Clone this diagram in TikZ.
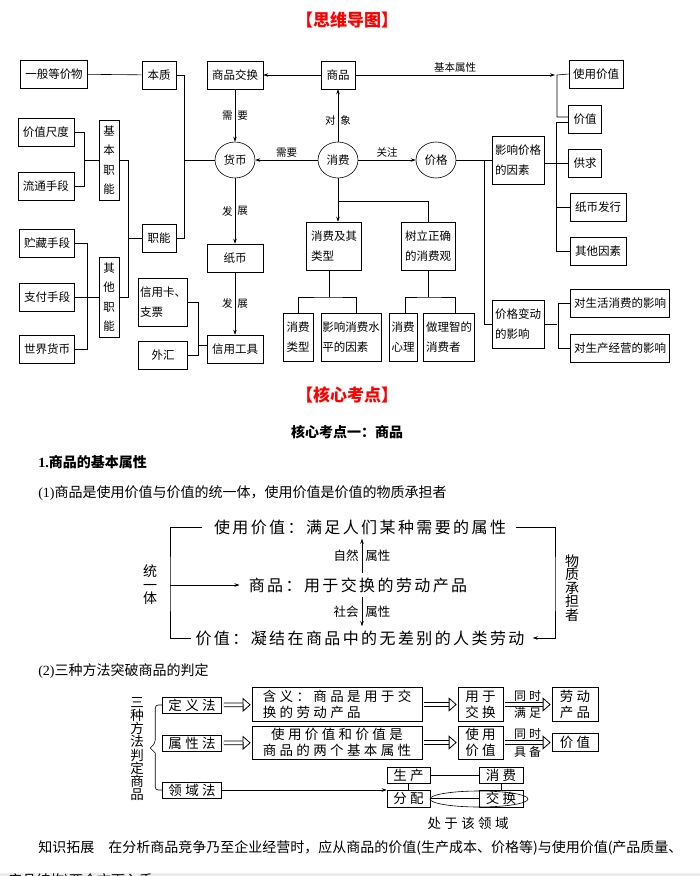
\documentclass[tikz,border=0pt]{standalone}
\usepackage{fontspec}
\setmainfont{Noto Sans CJK SC}
\newfontfamily\serifnum{Liberation Serif}
\newfontfamily\loosecjk[LetterSpace=15]{Noto Sans CJK SC}
\newfontfamily\widecjk[LetterSpace=25]{Noto Sans CJK SC}
\usetikzlibrary{arrows.meta,shapes.geometric,calc}

\begin{document}
\begin{tikzpicture}[x=1pt, y=-1pt, line width=0.6pt,
    >={Stealth[length=5pt,width=3.5pt]},
    box/.style={draw, inner sep=1pt, minimum height=28,
      font=\fontsize{11.5}{20}\selectfont},
    twobox/.style={box, align=left, minimum height=48},
    vbox/.style={draw, inner sep=1pt, minimum width=20, minimum height=80,
      align=center, font=\fontsize{11.5}{19.5}\selectfont},
    oval/.style={draw, ellipse, inner sep=0pt, minimum width=40,
      minimum height=36, font=\fontsize{11.5}{14}\selectfont},
    lbl/.style={font=\fontsize{10.5}{12}\selectfont, inner sep=2pt},
    title/.style={text=red, font=\bfseries\fontsize{17}{20}\selectfont},
    txt/.style={inner sep=0pt, anchor=west, font=\fontsize{14}{16}\selectfont},
    big/.style={inner sep=4pt, font=\loosecjk\fontsize{16}{18}\selectfont},
    vtxt/.style={align=center, inner sep=0pt, font=\fontsize{14}{13.5}\selectfont},
    sm/.style={inner sep=3pt, font=\fontsize{12.5}{14}\selectfont},
    wbox/.style={draw, inner sep=1pt, font=\widecjk\fontsize{13.5}{16}\selectfont},
    tiny/.style={inner sep=3pt, font=\widecjk\fontsize{12}{14}\selectfont},
    hollow/.style={double, double distance=3pt, line width=0.8pt,
      -{Triangle[open, length=8pt, width=14pt, line width=0.8pt]},
      shorten <=2pt, shorten >=1pt}]
  \useasboundingbox (0,0) rectangle (700,876);
  \clip (0,0) rectangle (700,876);

  % mind map
  \node[title] (swdt) at (347,20) {【思维导图】};
  \node[box, minimum width=67] (ybdjw) at (54,74) {一般等价物};
  \node[box, minimum width=34] (bz) at (159,75) {本质};
  \node[box, minimum width=56] (spjh) at (235,75) {商品交换};
  \node[box, minimum width=34] (sp) at (338,75) {商品};
  \node[box, minimum width=54] (syjz) at (596,74) {使用价值};
  \node[box, minimum width=33] (jz) at (585,119) {价值};
  \node[twobox, minimum width=52] (jgys) at (518,160) {影响价格\\的因素};
  \node[box, minimum width=33] (gq) at (585,163) {供求};
  \node[box, minimum width=56] (zbfx) at (598,207) {纸币发行};
  \node[box, minimum width=56] (qtys) at (598,251) {其他因素};
  \node[twobox, minimum width=52] (jgbd) at (518,324) {价格变动\\的影响};
  \node[box, minimum width=99] (shxf) at (620,303) {对生活消费的影响};
  \node[box, minimum width=99] (scjy) at (620,348) {对生产经营的影响};
  \node[oval] (hb) at (235,160) {货币};
  \node[oval] (xf) at (338,160) {消费};
  \node[oval] (jg) at (436,160) {价格};
  \node[box, minimum width=56] (jzcd) at (46,132) {价值尺度};
  \node[box, minimum width=56] (ltsd) at (46,186) {流通手段};
  \node[vbox] (jbzn) at (109,160) {基\\本\\职\\能};
  \node[vbox] (qtzn) at (109,297) {其\\他\\职\\能};
  \node[box, minimum width=55] (zcsd) at (47,243) {贮藏手段};
  \node[box, minimum width=55] (zfsd) at (47,297) {支付手段};
  \node[box, minimum width=55] (sjhb) at (47,349) {世界货币};
  \node[box, minimum width=34] (zn) at (159,238) {职能};
  \node[box, minimum width=56] (zb) at (235,258) {纸币};
  \node[twobox, minimum width=49] (xyk) at (163,302) {信用卡、\\支票};
  \node[box, minimum width=49] (wh) at (163,355) {外汇};
  \node[box, minimum width=56] (xygj) at (235,349) {信用工具};
  \node[twobox, minimum width=55] (xfjlx) at (334,246) {消费及其\\类型};
  \node[twobox, minimum width=54] (slzq) at (428,246) {树立正确\\的消费观};
  \node[twobox, minimum width=30] (xflx) at (298,337) {消费\\类型};
  \node[twobox, minimum width=60] (yxsp) at (351,337) {影响消费水\\平的因素};
  \node[twobox, minimum width=28] (xfxl) at (403,337) {消费\\心理};
  \node[twobox, minimum width=51] (lzxf) at (449,337) {做理智的\\消费者};

  \draw (ybdjw) -- (bz);
  \draw (bz.east) -- ++(8,0) |- (zn.east);
  \coordinate (bzzn) at (184,160);
  \draw (bzzn) -- (hb);
  \draw (jzcd.east) -- ++(10,0) |- (ltsd.east);
  \coordinate (jbzj) at (84,160);
  \draw (jbzj) -- (jbzn);
  \draw (jbzn.east) -- ++(9,0) |- (qtzn.east);
  \coordinate (znzj) at (128,238);
  \draw (znzj) -- (zn);
  \draw (zcsd.east) -- ++(12,0) |- (sjhb.east);
  \draw (zfsd) -- (qtzn);
  \draw[->] (sp) -- (spjh);
  \draw[->] (spjh) -- node[lbl,left]{需} node[lbl,right]{要} (hb);
  \draw[->] (xf) -- node[lbl,left,pos=0.4]{对} node[lbl,right,pos=0.4]{象} (sp);
  \draw[->] (xf) -- node[lbl,above]{需要} (hb);
  \draw[->] (xf) -- node[lbl,above]{关注} (jg);
  \coordinate (sxzj) at (557,75);
  \draw[->] (sp) -- node[lbl,above]{基本属性} ([xshift=-2pt]sxzj);
  \draw (syjz.west) -- (sxzj) |- ([yshift=2pt]jz.west);
  \draw ([yshift=-3pt]jz.west) -- ++(-12,0) |- (qtys.west);
  \draw (gq.west) -- (gq.west -| jgys.east);
  \draw (zbfx.west) -- ++(-13,0);
  \draw (jg) -- (jgys);
  \coordinate (jgzj) at (484,160);
  \draw (jgzj) |- (jgbd.west);
  \draw (shxf.west) -- ++(-12,0) |- (scjy.west);
  \draw (jgbd.east) -- ++(13,0);
  \draw[->] (hb) -- node[lbl,left]{发} node[lbl,right]{展} (zb);
  \draw[->] (zb) -- node[lbl,left]{发} node[lbl,right]{展} (xygj);
  \draw (xyk.east) -- ++(10,0) |- (wh.east);
  \coordinate (xyzj) at (198,345);
  \draw (xyzj) -- (xyzj -| xygj.west);
  \coordinate (xfzj) at (338,201);
  \draw[->] (xf) -- (xf |- xfjlx.north);
  \draw (xfzj) -| (slzq);
  \coordinate (lxzj) at (329,297);
  \draw (xfjlx.south -| lxzj) -- (lxzj);
  \draw (xflx) |- (lxzj) -| ([xshift=5pt]yxsp.north);
  \coordinate (gzzj) at (428,297);
  \draw (slzq) -- (gzzj);
  \draw ([xshift=2pt]xfxl.north) |- (gzzj) -| ([xshift=6pt]lzxf.north);

  % core points
  \node[title] (hxkd) at (347,395) {【核心考点】};
  \node[font=\bfseries\fontsize{14}{16}\selectfont] (kd1) at (347,432) {核心考点一：商品};
  \node[txt, font=\bfseries\fontsize{14}{16}\selectfont] (jbsx) at (38,462) {{\serifnum 1.}商品的基本属性};
  \node[txt] (p1) at (38,493) {{\serifnum (1)}商品是使用价值与价值的统一体，使用价值是价值的物质承担者};

  % unity of use value and value
  \node[big] (syjz2) at (360,527) {使用价值：满足人们某种需要的属性};
  \node[big] (sp2) at (358,585) {商品：用于交换的劳动产品};
  \node[big] (jz2) at (360,638) {价值：凝结在商品中的无差别的人类劳动};
  \node[vtxt] (tyt) at (150,585) {统\\一\\体};
  \node[vtxt] (wzcd) at (572,588) {物\\质\\承\\担\\者};
  \coordinate (zuo) at (170,585);
  \coordinate (you) at (555,585);
  \coordinate (zhou) at (362,585);
  \draw ([xshift=-8pt]syjz2.west) -| (zuo) |- (jz2.west);
  \draw[->] (zuo) -- ([xshift=-5pt]sp2.west);
  \draw[->] ([xshift=6pt]syjz2.east) -| (you) |- ([xshift=4pt]jz2.east);
  \draw[->] (sp2.north -| zhou) -- node[sm,left]{自然} node[sm,right]{属性} (syjz2.south -| zhou);
  \draw[->] (sp2.south -| zhou) -- node[sm,left]{社会} node[sm,right]{属性} (jz2.north -| zhou);

  % three methods
  \node[txt] (p2) at (38,671) {{\serifnum (2)}三种方法突破商品的判定};
  \node[vtxt, font=\fontsize{13.5}{13.2}\selectfont] (szff) at (137,749) {三\\种\\方\\法\\判\\定\\商\\品};
  \node[wbox, minimum width=59, minimum height=16] (dyf) at (192,705) {定义法};
  \node[wbox, minimum width=59, minimum height=16] (sxf) at (192,743) {属性法};
  \node[wbox, minimum width=59, minimum height=16] (lyf) at (192,790) {领域法};
  \node[wbox, align=left, minimum width=170, minimum height=34] (hy) at (337,704.5) {含义：商品是用于交\\换的劳动产品};
  \node[wbox, align=center, minimum width=170, minimum height=33] (lgsx) at (337,742.5) {使用价值和价值是\\商品的两个基本属性};
  \node[wbox, align=center, minimum width=45, minimum height=34] (yyjh) at (480.5,704.5) {用于\\交换};
  \node[wbox, align=center, minimum width=45, minimum height=33] (syjz3) at (480.5,742.5) {使用\\价值};
  \node[wbox, align=center, minimum width=46, minimum height=34] (ldcp) at (575,704.5) {劳动\\产品};
  \node[wbox, minimum width=46, minimum height=18] (jz3) at (575,742.5) {价值};
  \node[wbox, minimum width=43, minimum height=16] (sc) at (408.5,775) {生产};
  \node[wbox, minimum width=44, minimum height=16] (xf3) at (501,775) {消费};
  \node[wbox, minimum width=43, minimum height=17] (fp) at (408.5,798.5) {分配};
  \node[wbox, minimum width=44, minimum height=17] (jh) at (501,798.5) {交换};
  \node[font=\widecjk\fontsize{13.5}{16}\selectfont] (clyly) at (468,823) {处于该领域};

  \draw[rounded corners=3pt] (dyf.west) -- ++(-7,0) -- ++(0,38) [sharp corners] -- ++(-5,5) -- ++(5,5) [rounded corners=3pt] -- ++(0,37) -- (lyf.west);
  \draw[hollow] (dyf) -- (hy);
  \draw[hollow] (sxf) -- (lgsx);
  \draw[hollow] (hy) -- (yyjh);
  \draw[hollow] (lgsx) -- (syjz3);
  \draw[hollow] (yyjh) -- node[tiny,above]{同时} node[tiny,below]{满足} (ldcp);
  \draw[hollow] (syjz3) -- node[tiny,above]{同时} node[tiny,below]{具备} (jz3);
  \draw[->] (lyf.east) -- (lyf.east -| fp.west);
  \draw (sc) -- (xf3);
  \draw (sc) -- (fp);
  \draw (xf3) -- (jh);
  \draw (fp) -- (jh);
  \coordinate (lyzx) at (479,799);
  \draw (lyzx) ellipse [x radius=49, y radius=8];

  \node[txt] (zstz) at (38,848) {知识拓展　在分析商品竞争乃至企业经营时，应从商品的价值(生产成本、价格等)与使用价值(产品质量、};
  \fill[black!7] (0,873) rectangle (700,876);
  \node[txt] (zstz2) at (8,881) {产品结构)两个方面入手。};
\end{tikzpicture}
\end{document}
